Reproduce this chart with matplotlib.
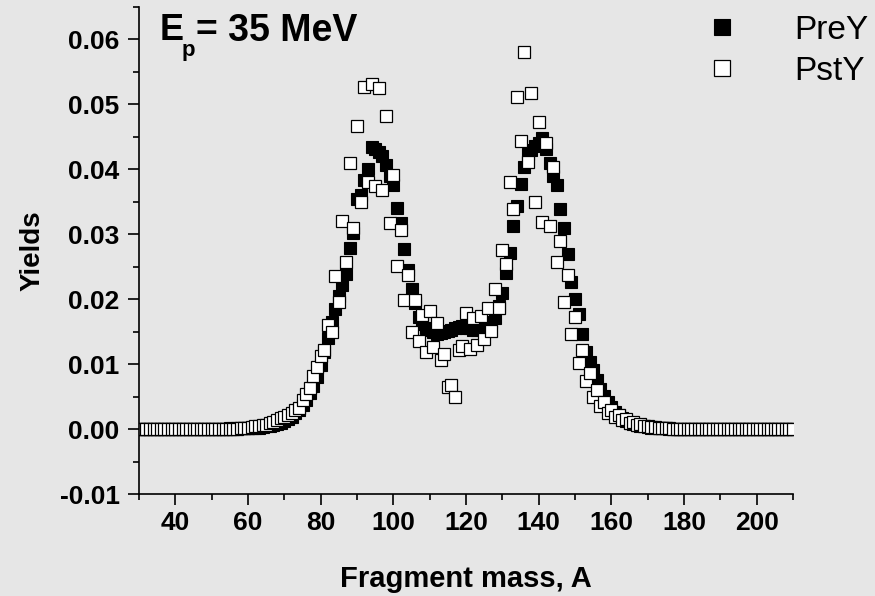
import numpy as np
import matplotlib.pyplot as plt

plt.rcParams['font.family'] = ['Liberation Sans', 'DejaVu Sans']

# fragment mass numbers
mass = np.arange(30, 211)

pre_y = [
    0.0000, 0.0000, 0.0000, 0.0000, 0.0000, 0.0000, 0.0000, 0.0000, 0.0000, 0.0000,  # 30-39
    0.0000, 0.0000, 0.0000, 0.0000, 0.0000, 0.0000, 0.0000, 0.0000, 0.0000, 0.0000,  # 40-49
    0.0000, 0.0000, 0.0000, 0.0000, 0.0000, 0.0001, 0.0001, 0.0001, 0.0001, 0.0001,  # 50-59
    0.0001, 0.0001, 0.0002, 0.0002, 0.0003, 0.0004, 0.0005, 0.0006, 0.0008, 0.0010,  # 60-69
    0.0012, 0.0015, 0.0019, 0.0024, 0.0030, 0.0037, 0.0045, 0.0055, 0.0067, 0.0080,  # 70-79
    0.0099, 0.0119, 0.0140, 0.0165, 0.0185, 0.0205, 0.0222, 0.0239, 0.0279, 0.0302,  # 80-89
    0.0355, 0.0360, 0.0384, 0.0400, 0.0435, 0.0432, 0.0427, 0.0421, 0.0407, 0.0390,  # 90-99
    0.0376, 0.0341, 0.0317, 0.0277, 0.0245, 0.0215, 0.0194, 0.0173, 0.0162, 0.0156,  # 100-109
    0.0152, 0.0149, 0.0147, 0.0148, 0.0150, 0.0151, 0.0153, 0.0156, 0.0157, 0.0158,  # 110-119
    0.0156, 0.0155, 0.0153, 0.0152, 0.0154, 0.0156, 0.0160, 0.0165, 0.0171, 0.0190,  # 120-129
    0.0209, 0.0240, 0.0271, 0.0313, 0.0344, 0.0377, 0.0404, 0.0423, 0.0430, 0.0436,  # 130-139
    0.0440, 0.0448, 0.0432, 0.0410, 0.0390, 0.0376, 0.0339, 0.0309, 0.0270, 0.0227,  # 140-149
    0.0200, 0.0177, 0.0146, 0.0119, 0.0104, 0.0091, 0.0075, 0.0062, 0.0051, 0.0042,  # 150-159
    0.0034, 0.0027, 0.0022, 0.0017, 0.0013, 0.0010, 0.0008, 0.0006, 0.0005, 0.0004,  # 160-169
    0.0003, 0.0002, 0.0002, 0.0001, 0.0001, 0.0001, 0.0000, 0.0000, 0.0000, 0.0000,  # 170-179
    0.0000, 0.0000, 0.0000, 0.0000, 0.0000, 0.0000, 0.0000, 0.0000, 0.0000, 0.0000,  # 180-189
    0.0000, 0.0000, 0.0000, 0.0000, 0.0000, 0.0000, 0.0000, 0.0000, 0.0000, 0.0000,  # 190-199
    0.0000, 0.0000, 0.0000, 0.0000, 0.0000, 0.0000, 0.0000, 0.0000, 0.0000, 0.0000,  # 200-209
    0.0000,                                                                          # 210
]

pst_y = [
    0.0000, 0.0000, 0.0000, 0.0000, 0.0000, 0.0000, 0.0000, 0.0000, 0.0000, 0.0000,  # 30-39
    0.0000, 0.0000, 0.0000, 0.0000, 0.0000, 0.0000, 0.0000, 0.0000, 0.0000, 0.0000,  # 40-49
    0.0000, 0.0000, 0.0000, 0.0000, 0.0000, 0.0000, 0.0000, 0.0000, 0.0001, 0.0001,  # 50-59
    0.0002, 0.0003, 0.0004, 0.0005, 0.0006, 0.0007, 0.0009, 0.0011, 0.0014, 0.0017,  # 60-69
    0.0019, 0.0022, 0.0024, 0.0029, 0.0032, 0.0045, 0.0054, 0.0064, 0.0081, 0.0095,  # 70-79
    0.0112, 0.0122, 0.0160, 0.0150, 0.0236, 0.0195, 0.0320, 0.0257, 0.0409, 0.0309,  # 80-89
    0.0466, 0.0349, 0.0527, 0.0381, 0.0532, 0.0374, 0.0525, 0.0368, 0.0482, 0.0317,  # 90-99
    0.0392, 0.0251, 0.0307, 0.0198, 0.0237, 0.0150, 0.0198, 0.0135, 0.0175, 0.0119,  # 100-109
    0.0182, 0.0126, 0.0163, 0.0106, 0.0115, 0.0065, 0.0068, 0.0050, 0.0122, 0.0128,  # 110-119
    0.0179, 0.0123, 0.0171, 0.0129, 0.0174, 0.0138, 0.0186, 0.0151, 0.0215, 0.0186,  # 120-129
    0.0275, 0.0254, 0.0381, 0.0339, 0.0512, 0.0443, 0.0581, 0.0412, 0.0517, 0.0350,  # 130-139
    0.0473, 0.0319, 0.0441, 0.0312, 0.0404, 0.0257, 0.0290, 0.0196, 0.0237, 0.0146,  # 140-149
    0.0173, 0.0101, 0.0121, 0.0074, 0.0087, 0.0050, 0.0060, 0.0035, 0.0042, 0.0025,  # 150-159
    0.0030, 0.0019, 0.0022, 0.0014, 0.0016, 0.0010, 0.0011, 0.0007, 0.0008, 0.0005,  # 160-169
    0.0005, 0.0003, 0.0003, 0.0002, 0.0002, 0.0001, 0.0001, 0.0000, 0.0000, 0.0000,  # 170-179
    0.0000, 0.0000, 0.0000, 0.0000, 0.0000, 0.0000, 0.0000, 0.0000, 0.0000, 0.0000,  # 180-189
    0.0000, 0.0000, 0.0000, 0.0000, 0.0000, 0.0000, 0.0000, 0.0000, 0.0000, 0.0000,  # 190-199
    0.0000, 0.0000, 0.0000, 0.0000, 0.0000, 0.0000, 0.0000, 0.0000, 0.0000, 0.0000,  # 200-209
    0.0000,                                                                          # 210
]

bg = '#e6e6e6'
W, H = 875, 596
fig = plt.figure(figsize=(8.75, 5.96), dpi=100, facecolor=bg)
ax = fig.add_axes([139 / W, 1 - 494 / H, 654 / W, 487 / H], facecolor=bg)

ax.plot(mass, pre_y, 's', color='black', ms=8.5, mew=0.8, mec='black', label='PreY')
ax.plot(mass, pst_y, 's', color='black', mfc='white', ms=8.5, mew=0.9, mec='black', label='PstY')

ax.set_xlim(30, 210)
ax.set_ylim(-0.01, 0.065)
ax.set_xticks(np.arange(40, 201, 20))
ax.set_xticks(np.arange(30, 211, 10), minor=True)
ax.set_yticks(np.arange(-0.01, 0.061, 0.01))
ax.set_yticks(np.arange(-0.01, 0.066, 0.005), minor=True)
ax.set_yticklabels(['-0.01', '0.00', '0.01', '0.02', '0.03', '0.04', '0.05', '0.06'])

for s in ['top', 'right']:
    ax.spines[s].set_visible(False)
for s in ['left', 'bottom']:
    ax.spines[s].set_linewidth(1.2)

ax.tick_params(which='major', direction='out', length=8, width=1.2, labelsize=19)
ax.tick_params(axis='x', which='major', pad=4)
ax.tick_params(axis='y', which='major', pad=6)
ax.tick_params(which='minor', direction='out', length=4, width=1.2)
for lab in ax.get_xticklabels() + ax.get_yticklabels():
    lab.set_fontweight('bold')

ax.set_xlabel('Fragment mass, A', fontsize=21, fontweight='bold', labelpad=22)
ax.set_ylabel('Yields', fontsize=20, fontweight='bold', labelpad=10)

# E_p label, subscript placed by hand
fig.text(160 / W, 1 - 13 / H, 'E', fontsize=26, fontweight='bold', va='top', ha='left')
fig.text(182 / W, 1 - 40 / H, 'p', fontsize=16, fontweight='bold', va='top', ha='left')
fig.text(196 / W, 1 - 13 / H, '= 35 MeV', fontsize=27, fontweight='bold', va='top', ha='left')

fig.legend(loc='upper left', bbox_to_anchor=(0.772, 1.025), frameon=False,
           fontsize=24, handlelength=1.0, handletextpad=1.65, labelspacing=0.3,
           markerscale=1.3)

fig.savefig('out.png', dpi=100, facecolor=bg)
